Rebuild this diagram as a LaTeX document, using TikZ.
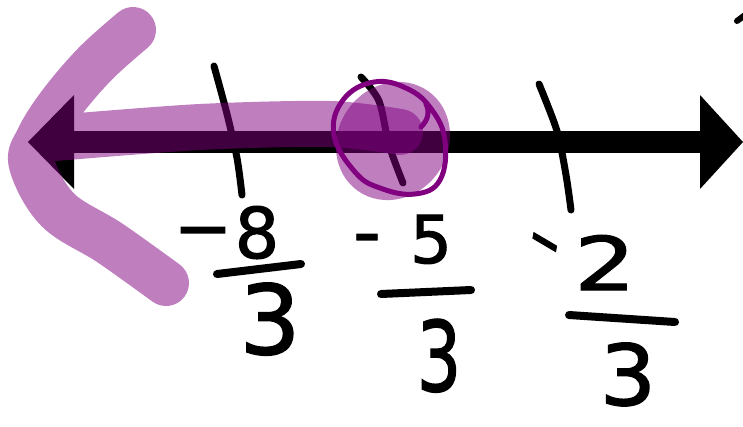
\documentclass[tikz,border=0pt]{standalone}
\usepackage{fontspec}
\newfontfamily\handfont{DejaVu Sans}[FakeBold=1.6]
\definecolor{hlpurple}{HTML}{800080}
\tikzset{
  digit/.style={font=\handfont, inner sep=0pt, anchor=base},
  ticklin/.style={line width=7pt, line cap=round},
  fracbar/.style={line width=8pt, line cap=round},
  hilite/.style={draw=hlpurple, opacity=0.5, line width=46pt, line cap=round, line join=round},
  ring/.style={draw=hlpurple, line width=5pt, line cap=round, line join=round},
}
\newcommand{\fs}[1]{\fontsize{#1}{#1}\selectfont}
\begin{document}
\begin{tikzpicture}[x=1pt,y=-1pt]
\useasboundingbox (0,0) rectangle (743,426);
% number line
\coordinate (L) at (28,142);
\coordinate (R) at (743,142);
\draw[line width=22pt] ([xshift=40pt]L) -- ([xshift=-40pt]R);
\fill (L) -- ++(46,-47) -- ++(0,94) -- cycle;
\fill (R) -- ++(-43,-47) -- ++(0,94) -- cycle;
% ticks
\draw[ticklin] plot[smooth] coordinates {(214,66) (227,114) (237,158) (242,195)};
\draw[ticklin] plot[smooth] coordinates {(361,77) (379,101) (389,145) (403,183)};
\draw[ticklin] plot[smooth] coordinates {(539,84) (557,131) (566,175) (571,210)};
% small mark top right
\draw[line width=6pt, line cap=round] (737,21) -- (745,15);
% labels -8/3
\node[digit] (m1) at (203,252) {\fs{70}−};
\node[digit] (n1) at (257,258) {\fs{70}8};
\draw[fracbar] (217,274) -- (301,264);
\node[digit] (d1) at (270,354) {\fs{96}3};
% -5/3
\node[digit, xscale=0.47] (m2) at (367,259) {\fs{70}−};
\node[digit] (n2) at (431,263) {\fs{66}5};
\draw[fracbar] (381,294) -- (471,290);
\node[digit, xscale=0.72] (d2) at (439,391) {\fs{97}3};
% -2/3
\node[digit, xscale=0.55, rotate=-18] (m3) at (541,263) {\fs{70}−};
\node[digit, xscale=1.3] (n3) at (605,290) {\fs{74}2};
\draw[fracbar] (569,315) -- (675,322);
\node[digit, xscale=1.05] (d3) at (628,405) {\fs{84}3};
% highlight
\fill[hlpurple, opacity=0.5, rotate around={-35:(393,141)}] (393,141) ellipse [x radius=55, y radius=61];
\draw[hilite] plot[smooth, tension=0.6] coordinates {(133,30) (95,64) (60,105) (38,140) (32,165) (58,210) (110,243) (166,283)}
  plot[smooth] coordinates {(55,138) (200,127) (330,124) (400,132)};
\draw[ring] plot[smooth cycle, tension=0.7] coordinates {(374,82) (408,89) (432,110) (445,141) (440,180) (415,194) (380,188) (355,172) (334,135) (343,100)};
\draw[ring] (421,127) .. controls (428,120) and (430,112) .. (426,104);
\end{tikzpicture}
\end{document}
